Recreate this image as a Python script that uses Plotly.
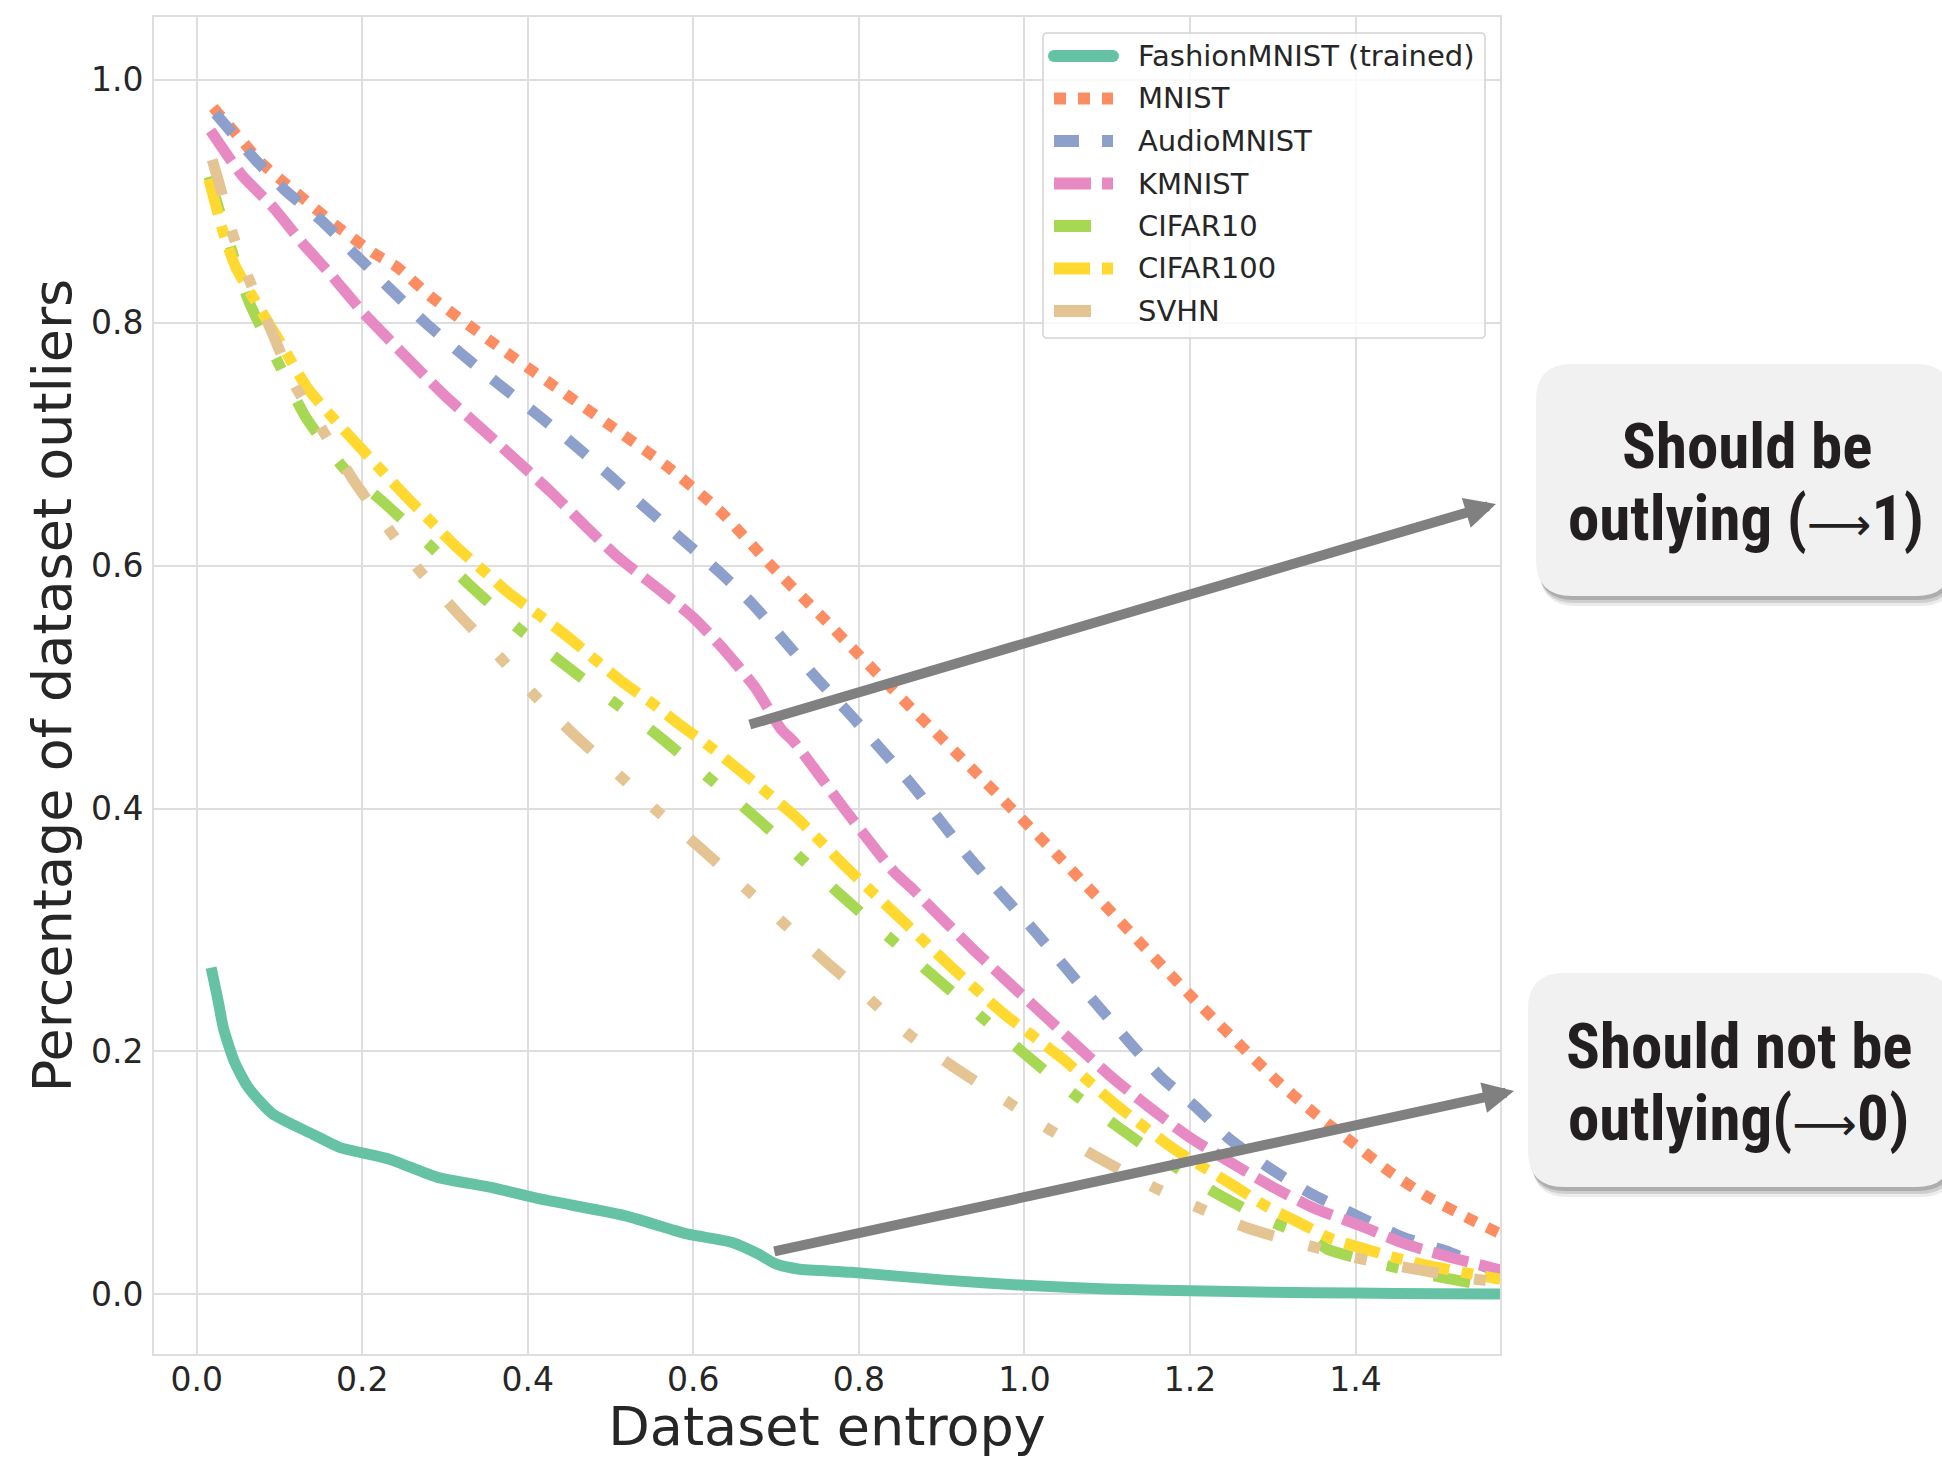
import plotly.graph_objects as go

# ---------------- data ----------------
series_names = ["FashionMNIST (trained)", "MNIST", "AudioMNIST", "KMNIST",
                "CIFAR10", "CIFAR100", "SVHN"]

fashion_x = [0.0175, 0.025, 0.0326, 0.046, 0.0623, 0.0918, 0.14, 0.1726, 0.232, 0.291,
             0.3557, 0.4149, 0.517, 0.5925, 0.646, 0.6786, 0.6997, 0.7266, 0.7906, 0.9,
             1.0, 1.1, 1.2, 1.3, 1.4, 1.5, 1.575]
fashion_y = [0.269, 0.245, 0.2185, 0.191, 0.1705, 0.1486, 0.132, 0.1211, 0.1115, 0.0964,
             0.0882, 0.0786, 0.0649, 0.0498, 0.043, 0.0333, 0.0251, 0.021, 0.0183, 0.012,
             0.0075, 0.0045, 0.003, 0.0018, 0.0012, 0.0006, 0.0003]

mnist_x = [0.02, 0.043, 0.079, 0.101, 0.17, 0.2158, 0.242, 0.284, 0.3545, 0.425, 0.497,
           0.5675, 0.6137, 0.634, 0.694, 0.754, 0.797, 0.87, 0.941, 1.042, 1.2027, 1.307,
           1.349, 1.3957, 1.442, 1.488, 1.5423, 1.575]
mnist_y = [0.977, 0.959, 0.931, 0.918, 0.879, 0.8564, 0.8457, 0.8207, 0.785, 0.751, 0.7165,
           0.682, 0.656, 0.6438, 0.600, 0.5587, 0.5286, 0.478, 0.4298, 0.36, 0.2446, 0.1746,
           0.15, 0.1253, 0.1006, 0.080, 0.0607, 0.050]

audio_x = [0.023, 0.069, 0.107, 0.1515, 0.1917, 0.2339, 0.276, 0.3203, 0.3646, 0.4107,
           0.455, 0.4992, 0.5414, 0.5856, 0.63, 0.672, 0.710, 0.748, 0.7907, 0.865, 0.933,
           1.0137, 1.085, 1.1634, 1.206, 1.246, 1.294, 1.346, 1.4017, 1.458, 1.514, 1.5625,
           1.575]
audio_y = [0.972, 0.9355, 0.9088, 0.8835, 0.856, 0.8276, 0.800, 0.774, 0.7494, 0.7247,
           0.700, 0.674, 0.648, 0.622, 0.5957, 0.568, 0.538, 0.508, 0.4764, 0.4188, 0.36,
           0.298, 0.2405, 0.18, 0.155, 0.129, 0.105, 0.083, 0.0649, 0.047, 0.0347, 0.021,
           0.018]

kmnist_x = [0.0168, 0.055, 0.091, 0.127, 0.164, 0.2, 0.244, 0.298, 0.3404, 0.3846, 0.4288,
            0.469, 0.5093, 0.5555, 0.5997, 0.638, 0.676, 0.706, 0.722, 0.7826, 0.843,
            0.8629, 0.9374, 1.0197, 1.108, 1.1967, 1.2972, 1.35, 1.4057, 1.46, 1.514,
            1.5625, 1.575]
kmnist_y = [0.958, 0.921, 0.896, 0.866, 0.838, 0.809, 0.778, 0.741, 0.715, 0.6877, 0.660,
            0.6328, 0.6067, 0.582, 0.5573, 0.53, 0.4984, 0.4654, 0.4545, 0.3996, 0.3475,
            0.335, 0.2844, 0.2323, 0.1774, 0.1307, 0.0895, 0.071, 0.0566, 0.0416, 0.0306,
            0.0224, 0.020]

cifar10_x = [0.015, 0.043, 0.063, 0.095, 0.131, 0.1796, 0.2238, 0.278, 0.3284, 0.3846,
             0.4409, 0.4992, 0.5575, 0.6137, 0.668, 0.7223, 0.7746, 0.885, 0.9414, 0.9957,
             1.052, 1.1108, 1.168, 1.2296, 1.295, 1.349, 1.3655, 1.43, 1.5024, 1.5705, 1.575]
cifar10_y = [0.92, 0.858, 0.8175, 0.772, 0.723, 0.6788, 0.6533, 0.619, 0.5848, 0.5505,
             0.5203, 0.490, 0.46, 0.428, 0.397, 0.3639, 0.331, 0.2652, 0.2323, 0.2007,
             0.169, 0.139, 0.1115, 0.0841, 0.0607, 0.0457, 0.0374, 0.0251, 0.0142, 0.006,
             0.0058]

cifar100_x = [0.0148, 0.031, 0.047, 0.071, 0.099, 0.135, 0.1917, 0.2218, 0.252, 0.282,
              0.3143, 0.3465, 0.3786, 0.4147, 0.449, 0.483, 0.5175, 0.5515, 0.5856, 0.622,
              0.654, 0.7223, 0.7826, 0.855, 0.910, 0.9755, 1.044, 1.112, 1.1806, 1.253,
              1.291, 1.331, 1.3716, 1.4117, 1.454, 1.498, 1.540, 1.575]
cifar100_y = [0.918, 0.877, 0.846, 0.8175, 0.786, 0.745, 0.7014, 0.6794, 0.6575, 0.6369,
              0.615, 0.5957, 0.5766, 0.5587, 0.541, 0.5217, 0.5025, 0.486, 0.468, 0.450,
              0.4325, 0.394, 0.353, 0.3063, 0.2706, 0.2309, 0.1952, 0.1554, 0.1198, 0.0895,
              0.073, 0.0594, 0.0457, 0.0374, 0.0292, 0.0224, 0.0169, 0.0125]

svhn_x = [0.0188, 0.027, 0.043, 0.063, 0.091, 0.119, 0.1515, 0.1916, 0.232, 0.268, 0.3163,
          0.3665, 0.4047, 0.457, 0.511, 0.5535, 0.6077, 0.662, 0.71, 0.76, 0.81, 0.857,
          0.915, 0.9776, 1.0258, 1.088, 1.1524, 1.2046, 1.2731, 1.3434, 1.3976, 1.47,
          1.5423, 1.575]
svhn_y = [0.934, 0.915, 0.874, 0.836, 0.792, 0.748, 0.712, 0.668, 0.630, 0.597, 0.560,
          0.5244, 0.4956, 0.46, 0.427, 0.3996, 0.368, 0.335, 0.305, 0.274, 0.245, 0.2158,
          0.187, 0.1595, 0.1376, 0.1129, 0.0895, 0.0731, 0.0539, 0.0402, 0.0306, 0.021,
          0.0128, 0.010]

x_tick_values = [0.0, 0.2, 0.4, 0.6, 0.8, 1.0, 1.2, 1.4]
y_tick_values = [0.0, 0.2, 0.4, 0.6, 0.8, 1.0]

x_title = "Dataset entropy"
y_title = "Percentage of dataset outliers"
ARROW = "<span style=\"font-family:'DejaVu Sans';font-weight:400;font-size:45px\">⟶</span>"
box1_lines = ["Should be", "outlying (" + ARROW + "1)"]
box2_lines = ["Should not be", "outlying(" + ARROW + "0)"]

# ---------------- styles ----------------
colors = ["#66c2a5", "#fc8d62", "#8da0cb", "#e78ac3", "#a6d854", "#ffd92f", "#e5c494"]
dashes = ["solid", "12px,12px", "25px,23px", "37px,11px", "37px,36px,12px,36px",
          "36px,12px,12px,12px", "37px,36px,12px,36px,12px,36px"]
LW = 11

W, H = 1942, 1458
L, R, T, B = 154, 442, 17, 104
PW, PH = W - L - R, H - T - B


def px(X):
    return (X - L) / PW


def py(Y):
    return 1 - (Y - T) / PH


def rounded_path(x0, y0, x1, y1, r):
    # pixel coordinates (y downward) -> paper path with rounded corners
    rx, ry = r / PW, r / PH
    X0, X1 = px(x0), px(x1)
    Y0, Y1 = py(y0), py(y1)  # Y0 top (larger), Y1 bottom
    return (f"M{X0 + rx},{Y0} L{X1 - rx},{Y0} Q{X1},{Y0} {X1},{Y0 - ry} "
            f"L{X1},{Y1 + ry} Q{X1},{Y1} {X1 - rx},{Y1} L{X0 + rx},{Y1} "
            f"Q{X0},{Y1} {X0},{Y1 + ry} L{X0},{Y0 - ry} Q{X0},{Y0} {X0 + rx},{Y0} Z")


all_x = [fashion_x, mnist_x, audio_x, kmnist_x, cifar10_x, cifar100_x, svhn_x]
all_y = [fashion_y, mnist_y, audio_y, kmnist_y, cifar10_y, cifar100_y, svhn_y]

fig = go.Figure()
for name, xs, ys, c, d in zip(series_names, all_x, all_y, colors, dashes):
    fig.add_trace(go.Scatter(x=xs, y=ys, mode="lines", name=name, showlegend=False,
                             line=dict(color=c, width=LW, dash=d, shape="spline",
                                       smoothing=0.6)))

TXT = "#262626"
GRID = "#dedede"
FONT = "DejaVu Sans"

shapes = []
annotations = []

# ---------- custom legend ----------
shapes.append(dict(type="path", xref="paper", yref="paper", layer="above",
                   path=rounded_path(1043, 33, 1485, 338, 4),
                   fillcolor="rgba(255,255,255,0.8)", line=dict(color="#d4d4d4", width=1.5)))
for i, (name, c, d) in enumerate(zip(series_names, colors, dashes)):
    yc = 56 + 42.5 * i
    shapes.append(dict(type="line", xref="paper", yref="paper", layer="above",
                       x0=px(1054), x1=px(1113), y0=py(yc), y1=py(yc),
                       line=dict(color=c, width=12, dash=d)))
    if i == 0:
        for cx in (1054, 1113):
            shapes.append(dict(type="circle", xref="paper", yref="paper", layer="above",
                               x0=px(cx - 6), x1=px(cx + 6), y0=py(yc - 6), y1=py(yc + 6),
                               fillcolor=c, line=dict(width=0)))
    annotations.append(dict(text=name, xref="paper", yref="paper", x=px(1136), y=py(yc),
                            xanchor="left", yanchor="middle", showarrow=False,
                            font=dict(family=FONT, size=29, color=TXT)))

# ---------- callout boxes ----------
for (bx0, by0, bx1, by1) in [(1536, 364, 1952, 596), (1528, 973, 1952, 1187)]:
    for dx, dy, a in [(4, 10, 0.08), (3, 7, 0.12), (2, 4, 0.16)]:
        shapes.append(dict(type="path", xref="paper", yref="paper", layer="above",
                           path=rounded_path(bx0 + dx, by0 + dy, bx1 + dx, by1 + dy, 36),
                           fillcolor=f"rgba(0,0,0,{a})", line=dict(width=0)))
    shapes.append(dict(type="path", xref="paper", yref="paper", layer="above",
                       path=rounded_path(bx0, by0, bx1, by1, 36),
                       fillcolor="#f1f1f1", line=dict(width=0)))

BOXFONT = dict(family="Liberation Sans Narrow, Arial Narrow, Roboto Condensed, Roboto",
               size=63, color="#231f20", weight="bold")
for text, cx, cy in [(box1_lines[0], 1747, 446), (box1_lines[1], 1746, 518.5),
                     (box2_lines[0], 1739, 1046.5), (box2_lines[1], 1738, 1118.5)]:
    annotations.append(dict(text=text, xref="paper", yref="paper", x=px(cx), y=py(cy),
                            xanchor="center", yanchor="middle", showarrow=False,
                            font=BOXFONT))

# ---------- arrows ----------
for (tx, ty, hx, hy) in [(748.3, 725, 1496, 504), (772.8, 1251.7, 1514, 1091)]:
    annotations.append(dict(text="", xref="paper", yref="paper", x=px(hx), y=py(hy),
                            ax=tx - hx, ay=ty - hy, axref="pixel", ayref="pixel",
                            showarrow=True, arrowhead=2, arrowsize=0.62, arrowwidth=10,
                            arrowcolor="#808080", standoff=0))

fig.update_layout(
    width=W, height=H,
    margin=dict(l=L, r=R, t=T, b=B, autoexpand=False),
    paper_bgcolor="white", plot_bgcolor="white",
    showlegend=False,
    shapes=shapes, annotations=annotations,
    font=dict(family=FONT, color=TXT),
    xaxis=dict(range=[-0.0515, 1.5745], tickvals=x_tick_values, tickformat=".1f",
               showgrid=True, gridcolor=GRID, gridwidth=2, zeroline=False,
               showline=True, mirror=True, linecolor=GRID, linewidth=2, ticks="",
               ticklabelstandoff=-5,
               tickfont=dict(family=FONT, size=33, color=TXT),
               title=dict(text=x_title, font=dict(family=FONT, size=54, color=TXT),
                          standoff=19)),
    yaxis=dict(range=[-0.049, 1.0515], tickvals=y_tick_values, tickformat=".1f",
               showgrid=True, gridcolor=GRID, gridwidth=2, zeroline=False,
               showline=True, mirror=True, linecolor=GRID, linewidth=2, ticks="",
               ticklabelstandoff=2,
               tickfont=dict(family=FONT, size=33, color=TXT),
               title=dict(text=y_title, font=dict(family=FONT, size=54, color=TXT),
                          standoff=2)),
)

fig.write_html("out.html")
